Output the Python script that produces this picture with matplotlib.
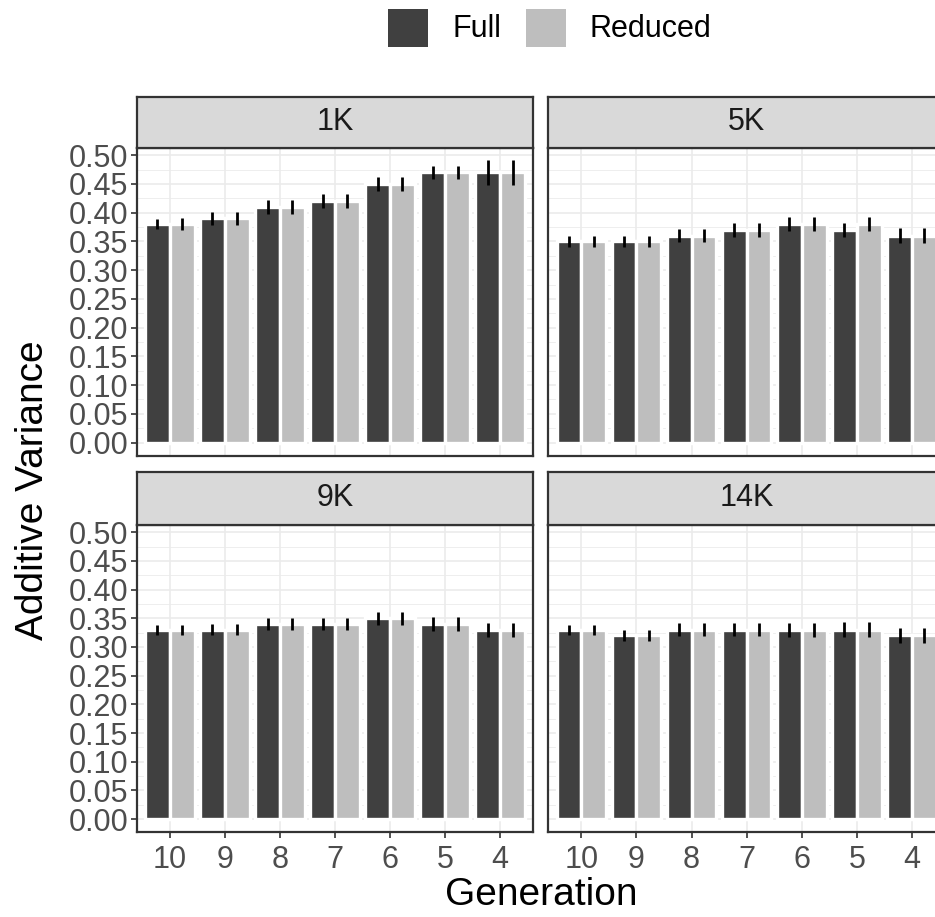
import matplotlib
matplotlib.use("Agg")
import matplotlib.pyplot as plt
from matplotlib.patches import Rectangle
import numpy as np

plt.rcParams['font.family'] = ['Liberation Sans', 'DejaVu Sans']

generations = ["10", "9", "8", "7", "6", "5", "4"]
panels = ["1K", "5K", "9K", "14K"]
series = ["Full", "Reduced"]

full_1k = [0.38, 0.39, 0.41, 0.42, 0.45, 0.47, 0.47]
red_1k = [0.38, 0.39, 0.41, 0.42, 0.45, 0.47, 0.47]
full_err_1k = [0.009, 0.012, 0.012, 0.012, 0.012, 0.012, 0.022]
red_err_1k = [0.010, 0.012, 0.012, 0.012, 0.012, 0.012, 0.022]

full_5k = [0.35, 0.35, 0.36, 0.37, 0.38, 0.37, 0.36]
red_5k = [0.35, 0.35, 0.36, 0.37, 0.38, 0.38, 0.36]
full_err_5k = [0.009, 0.010, 0.011, 0.012, 0.012, 0.012, 0.013]
red_err_5k = [0.009, 0.010, 0.011, 0.012, 0.012, 0.012, 0.013]

full_9k = [0.33, 0.33, 0.34, 0.34, 0.35, 0.34, 0.33]
red_9k = [0.33, 0.33, 0.34, 0.34, 0.35, 0.34, 0.33]
full_err_9k = [0.009, 0.010, 0.011, 0.011, 0.011, 0.012, 0.012]
red_err_9k = [0.009, 0.010, 0.011, 0.011, 0.011, 0.012, 0.012]

full_14k = [0.33, 0.32, 0.33, 0.33, 0.33, 0.33, 0.32]
red_14k = [0.33, 0.32, 0.33, 0.33, 0.33, 0.33, 0.32]
full_err_14k = [0.009, 0.010, 0.011, 0.011, 0.012, 0.013, 0.013]
red_err_14k = [0.009, 0.010, 0.011, 0.011, 0.012, 0.013, 0.013]

data = {
    "1K": (full_1k, red_1k, full_err_1k, red_err_1k),
    "5K": (full_5k, red_5k, full_err_5k, red_err_5k),
    "9K": (full_9k, red_9k, full_err_9k, red_err_9k),
    "14K": (full_14k, red_14k, full_err_14k, red_err_14k),
}

yticks = [0.00, 0.05, 0.10, 0.15, 0.20, 0.25, 0.30, 0.35, 0.40, 0.45, 0.50]
ytick_labels = ["%.2f" % v for v in yticks]

colors = {"Full": "#404040", "Reduced": "#BEBEBE"}

W, H = 935, 917
DPI = 100
fig = plt.figure(figsize=(W / DPI, H / DPI), dpi=DPI)


def fx(px):
    return px / W


def fy(py):
    return 1 - py / H


# pixel layout (x0, x1) columns, (strip_top, panel_top, panel_bottom) rows
cols = [(136.7, 533.3), (548.3, 945.0)]
rows = [(97.0, 148.0, 455.5), (471.7, 525.0, 832.0)]

border = "#333333"
grid = "#EBEBEB"
x = np.arange(1, len(generations) + 1)
bw = 0.45

for i, name in enumerate(panels):
    r, c = divmod(i, 2)
    x0, x1 = cols[c]
    st, pt, pb = rows[r]
    ax = fig.add_axes([fx(x0), fy(pb), fx(x1 - x0), (pb - pt) / H])
    sax = fig.add_axes([fx(x0), fy(pt), fx(x1 - x0), (pt - st) / H])

    f, rd, fe, re_ = data[name]
    ax.set_axisbelow(True)
    ax.bar(x - bw / 2, f, width=bw, color=colors["Full"], edgecolor="white", linewidth=2.4, zorder=2)
    ax.bar(x + bw / 2, rd, width=bw, color=colors["Reduced"], edgecolor="white", linewidth=2.4, zorder=2)
    ax.errorbar(x - bw / 2, f, yerr=fe, fmt="none", ecolor="black", elinewidth=2.0, capsize=0, zorder=3)
    ax.errorbar(x + bw / 2, rd, yerr=re_, fmt="none", ecolor="black", elinewidth=2.0, capsize=0, zorder=3)

    ax.set_xlim(0.4, 7.6)
    ax.set_ylim(-0.0225, 0.5125)
    ax.set_yticks(yticks)
    ax.set_yticks(np.arange(0.025, 0.5, 0.05), minor=True)
    ax.set_xticks(x)
    ax.grid(which="major", axis="both", color=grid, linewidth=1.2)
    ax.grid(which="minor", axis="y", color=grid, linewidth=0.6)
    ax.tick_params(which="minor", length=0)
    ax.tick_params(which="major", length=4, width=1.2, color=border, labelsize=22,
                   labelcolor="#4D4D4D", pad=2)
    ax.tick_params(axis="x", which="major", pad=5)
    if c == 0:
        ax.set_yticklabels(ytick_labels)
    else:
        ax.tick_params(axis="y", which="major", length=0, labelleft=False)
    if r == 1:
        ax.set_xticklabels(generations)
    else:
        ax.tick_params(axis="x", which="major", length=0, labelbottom=False)
    for sp in ax.spines.values():
        sp.set_color(border)
        sp.set_linewidth(1.6)

    sax.set_facecolor("#D9D9D9")
    sax.set_xticks([])
    sax.set_yticks([])
    for sp in sax.spines.values():
        sp.set_color(border)
        sp.set_linewidth(1.6)
    sax.text(0.5, 0.5, name, ha="center", va="center", fontsize=22, color="#1A1A1A",
             transform=sax.transAxes)

# axis titles
fig.text(fx(540.8), fy(895), "Generation", ha="center", va="center", fontsize=28, color="black")
fig.text(fx(33), fy(490), "Additive Variance", ha="center", va="center", rotation=90,
         fontsize=28, color="black")

# legend
key_w, key_h = 40, 38
legend_items = [(388.3, 452.7, "Full"), (526.0, 589.0, "Reduced")]
for (kx, tx, lab) in legend_items:
    fig.add_artist(Rectangle((fx(kx), fy(9 + key_h)), key_w / W, key_h / H,
                             transform=fig.transFigure, facecolor=colors[lab],
                             edgecolor="none"))
    fig.text(fx(tx), fy(29), lab, ha="left", va="center", fontsize=22, color="black")

fig.savefig("out.png", dpi=DPI)
